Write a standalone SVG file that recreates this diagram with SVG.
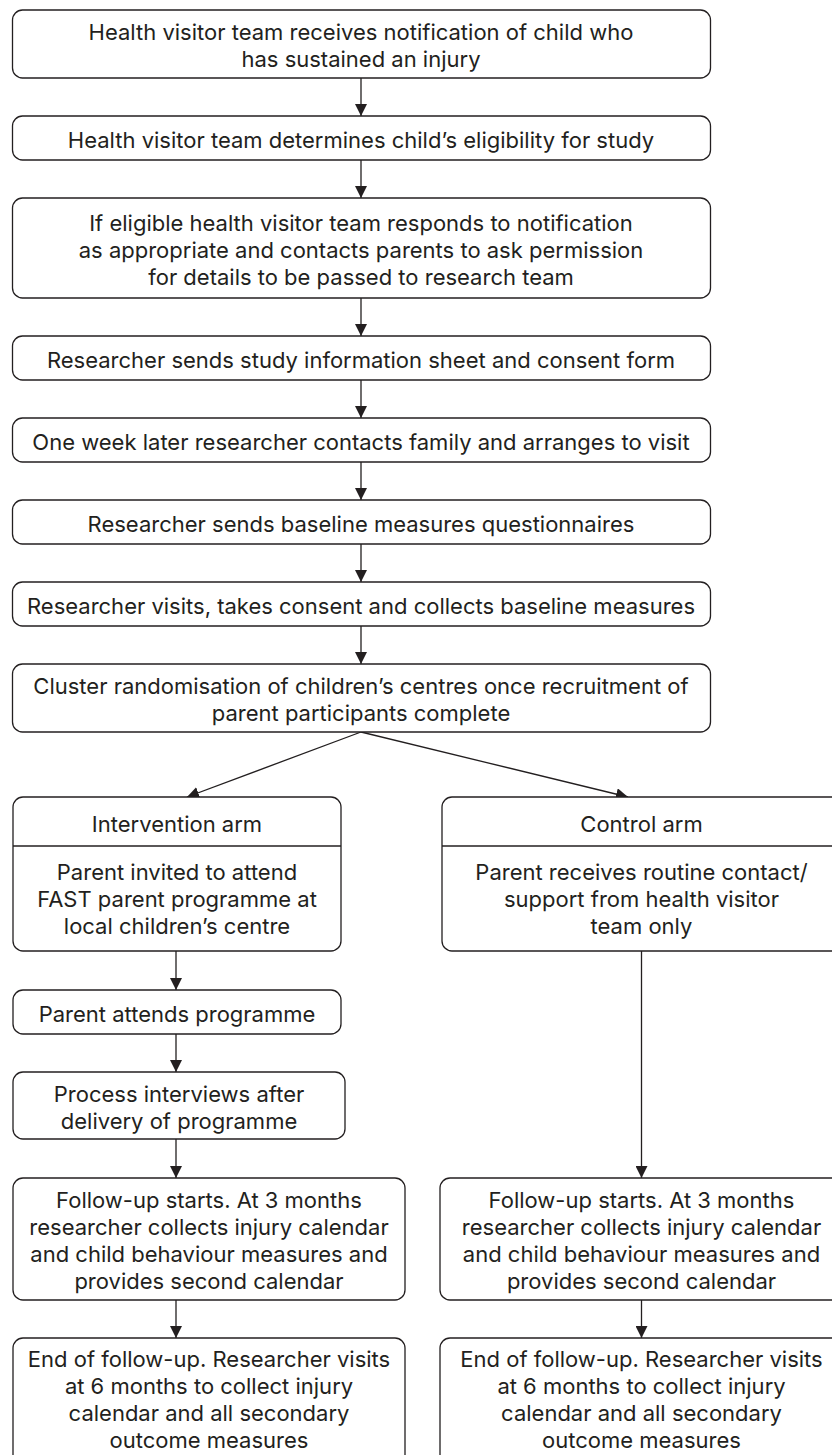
<svg xmlns="http://www.w3.org/2000/svg" width="832" height="1455" viewBox="0 0 832 1455">
<defs>
<marker id="ah" markerUnits="userSpaceOnUse" markerWidth="12" markerHeight="12" refX="12" refY="6" orient="auto">
<path d="M0,0 L12,6 L0,12 z" fill="#231f20"/>
</marker>
<style>
rect{fill:#fff;stroke:#231f20;stroke-width:1.3}
.d{stroke:#231f20;stroke-width:1.3;fill:none}
text{font-family:Inter,"Open Sans",sans-serif;font-size:22px;fill:#231f20;text-anchor:middle}
#edges path{stroke:#231f20;stroke-width:1.3;fill:none;marker-end:url(#ah)}
</style>
</defs>
<rect x="0" y="0" width="832" height="1455" style="stroke:none"/>
<g id="edges">
<path d="M361,78V116"/>
<path d="M361,160V198"/>
<path d="M361,298V336"/>
<path d="M361,380V418"/>
<path d="M361,462V500"/>
<path d="M361,544V582"/>
<path d="M361,626V664"/>
<path d="M361,732L187,797"/>
<path d="M361,732L628,797"/>
<path d="M176,951V990"/>
<path d="M176,1034V1072"/>
<path d="M176,1139V1178"/>
<path d="M176,1300V1338"/>
<path d="M641.5,951V1178"/>
<path d="M641.5,1300V1338"/>
</g>
<g id="n1"><rect x="12.5" y="10" width="698" height="68" rx="10"/>
<text x="361" y="40">Health visitor team receives notification of child who</text>
<text x="361" y="67">has sustained an injury</text></g>
<g id="n2"><rect x="12.5" y="116" width="698" height="44" rx="10"/>
<text x="361" y="147.5">Health visitor team determines child’s eligibility for study</text></g>
<g id="n3"><rect x="12.5" y="198" width="698" height="100" rx="10"/>
<text x="361" y="230.5">If eligible health visitor team responds to notification</text>
<text x="361" y="257.5">as appropriate and contacts parents to ask permission</text>
<text x="361" y="284.5">for details to be passed to research team</text></g>
<g id="n4"><rect x="12.5" y="336" width="698" height="44" rx="10"/>
<text x="361" y="368">Researcher sends study information sheet and consent form</text></g>
<g id="n5"><rect x="12.5" y="418" width="698" height="44" rx="10"/>
<text x="361" y="450">One week later researcher contacts family and arranges to visit</text></g>
<g id="n6"><rect x="12.5" y="500" width="698" height="44" rx="10"/>
<text x="361" y="531.5">Researcher sends baseline measures questionnaires</text></g>
<g id="n7"><rect x="12.5" y="582" width="698" height="44" rx="10"/>
<text x="361" y="613.5">Researcher visits, takes consent and collects baseline measures</text></g>
<g id="n8"><rect x="12.5" y="664" width="698" height="68" rx="10"/>
<text x="361" y="694">Cluster randomisation of children’s centres once recruitment of</text>
<text x="361" y="721">parent participants complete</text></g>
<g id="int"><rect x="13" y="797" width="328" height="154" rx="10"/>
<path class="d" d="M13,846H341"/>
<text x="177" y="832">Intervention arm</text>
<text x="177" y="880">Parent invited to attend</text>
<text x="177" y="907">FAST parent programme at</text>
<text x="177" y="934">local children’s centre</text></g>
<g id="ctl"><rect x="442" y="797" width="401" height="154" rx="10"/>
<path class="d" d="M442,846H843"/>
<text x="641.5" y="832">Control arm</text>
<text x="641.5" y="880">Parent receives routine contact/</text>
<text x="641.5" y="907">support from health visitor</text>
<text x="641.5" y="934">team only</text></g>
<g id="att"><rect x="13" y="990" width="328" height="44" rx="10"/>
<text x="177" y="1021.5">Parent attends programme</text></g>
<g id="proc"><rect x="13" y="1072" width="332" height="67" rx="10"/>
<text x="179" y="1101.5">Process interviews after</text>
<text x="179" y="1128.5">delivery of programme</text></g>
<g id="fu1"><rect x="13" y="1178" width="392" height="122" rx="10"/>
<text x="209" y="1208">Follow-up starts. At 3 months</text>
<text x="209" y="1235">researcher collects injury calendar</text>
<text x="209" y="1262">and child behaviour measures and</text>
<text x="209" y="1289">provides second calendar</text></g>
<g id="fu2"><rect x="440" y="1178" width="403" height="122" rx="10"/>
<text x="641.5" y="1208">Follow-up starts. At 3 months</text>
<text x="641.5" y="1235">researcher collects injury calendar</text>
<text x="641.5" y="1262">and child behaviour measures and</text>
<text x="641.5" y="1289">provides second calendar</text></g>
<g id="end1"><rect x="13" y="1338" width="392" height="140" rx="10"/>
<text x="209" y="1367">End of follow-up. Researcher visits</text>
<text x="209" y="1394">at 6 months to collect injury</text>
<text x="209" y="1421">calendar and all secondary</text>
<text x="209" y="1448">outcome measures</text></g>
<g id="end2"><rect x="440" y="1338" width="403" height="140" rx="10"/>
<text x="641.5" y="1367">End of follow-up. Researcher visits</text>
<text x="641.5" y="1394">at 6 months to collect injury</text>
<text x="641.5" y="1421">calendar and all secondary</text>
<text x="641.5" y="1448">outcome measures</text></g>
</svg>
